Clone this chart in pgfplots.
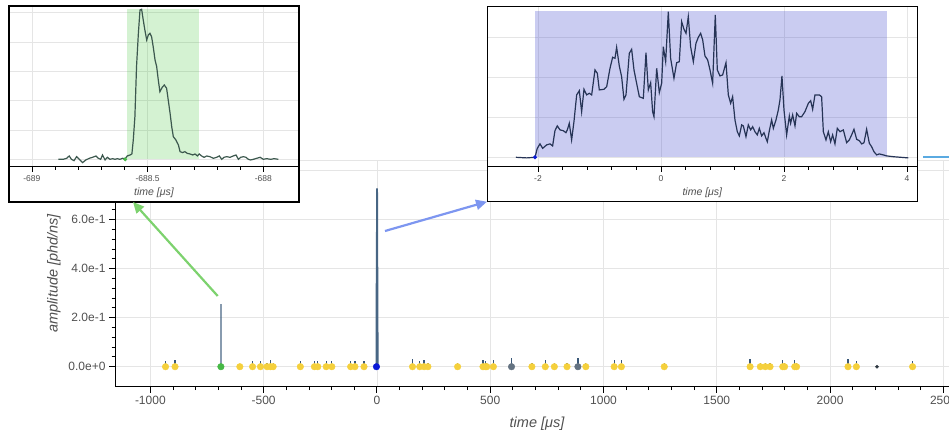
\documentclass[border=0pt]{standalone}
\usepackage{pgfplots}
\pgfplotsset{compat=1.18}
\usepackage{pgfplotstable}
\usepackage{fontspec}
\setmainfont{Liberation Sans}
\usetikzlibrary{arrows.meta}

\definecolor{gridcol}{RGB}{229,229,229}
\definecolor{textcol}{RGB}{80,80,80}
\definecolor{wavemain}{RGB}{72,102,132}
\definecolor{waveL}{RGB}{60,88,78}
\definecolor{waveR}{RGB}{38,52,86}
\definecolor{greenbase}{RGB}{40,190,30}
\definecolor{bluebase}{RGB}{65,72,205}
\definecolor{yellowc}{RGB}{245,208,60}
\definecolor{spikecol}{RGB}{58,88,120}
\definecolor{grayev}{RGB}{100,115,130}
\definecolor{darkdot}{RGB}{45,55,65}
\definecolor{greenmark}{RGB}{70,185,70}
\definecolor{bluemark}{RGB}{10,25,215}
\definecolor{greenarrow}{RGB}{125,210,110}
\definecolor{bluearrow}{RGB}{125,150,240}
\definecolor{lightbluearrow}{RGB}{90,170,225}

% S1 pulse (left inset)
\pgfplotstableread{
t a
-688.886 0
-688.865 0
-688.850 0.0017
-688.839 0.0057
-688.829 0
-688.818 -0.0023
-688.807 0.0045
-688.795 0
-688.781 -0.0057
-688.767 -0.0011
-688.752 0.0017
-688.738 0.0034
-688.723 0.0057
-688.713 0.0017
-688.703 0
-688.695 0.0074
-688.684 -0.0011
-688.674 0.0034
-688.663 0
-688.651 0.0011
-688.641 0
-688.631 0.0011
-688.620 0
-688.608 0.0017
-688.597 0.0011
-688.588 0.0057
-688.576 0.0074
-688.568 0.0091
-688.562 0.0330
-688.555 0.0727
-688.548 0.1580
-688.540 0.2148
-688.533 0.2545
-688.526 0.2557
-688.519 0.2375
-688.512 0.2205
-688.504 0.2034
-688.497 0.2119
-688.490 0.2148
-688.483 0.2091
-688.476 0.1920
-688.468 0.1693
-688.461 0.1580
-688.454 0.1352
-688.447 0.1153
-688.437 0.1227
-688.428 0.1267
-688.418 0.1210
-688.411 0.1011
-688.403 0.0784
-688.396 0.0557
-688.389 0.0386
-688.378 0.0330
-688.367 0.0244
-688.360 0.0131
-688.349 0.0114
-688.339 0.0131
-688.329 0.0102
-688.317 0.0091
-688.305 0.0074
-688.295 0.0091
-688.285 0.0057
-688.277 0.0091
-688.267 0.0057
-688.256 0.0034
-688.245 0.0057
-688.231 0.0045
-688.216 0.0017
-688.202 0.0034
-688.190 0.0057
-688.180 0
-688.170 0.0034
-688.159 0.0045
-688.144 0.0034
-688.130 0.0057
-688.118 0.0074
-688.108 0
-688.098 0.0034
-688.086 0.0045
-688.075 0.0034
-688.065 0
-688.055 -0.0011
-688.043 0
-688.029 0.0017
-688.014 0.0034
-688.000 0
-687.986 0.0011
-687.968 0
-687.954 0.0011
-687.935 0
}\sone

% S2 pulse (right inset)
\pgfplotstableread{
t a
-2.358 0
-2.184 -0.003
-2.049 0
-2.011 0.045
-1.967 0.067
-1.924 0.045
-1.859 0.062
-1.805 0.067
-1.762 0.057
-1.724 0.133
-1.686 0.157
-1.642 0.137
-1.588 0.133
-1.545 0.123
-1.523 0.137
-1.491 0.170
-1.453 0.087
-1.415 0.178
-1.371 0.312
-1.328 0.333
-1.290 0.228
-1.252 0.340
-1.209 0.312
-1.165 0.320
-1.127 0.312
-1.073 0.437
-1.035 0.420
-1.003 0.337
-0.927 0.340
-0.883 0.353
-0.829 0.445
-0.786 0.500
-0.748 0.495
-0.721 0.550
-0.678 0.457
-0.640 0.403
-0.602 0.290
-0.569 0.312
-0.515 0.520
-0.477 0.540
-0.439 0.437
-0.396 0.370
-0.352 0.303
-0.287 0.295
-0.244 0.523
-0.206 0.337
-0.168 0.373
-0.136 0.228
-0.114 0.203
-0.070 0.445
-0.027 0.323
0.011 0.370
0.038 0.553
0.076 0.478
0.119 0.728
0.157 0.495
0.211 0.395
0.255 0.473
0.298 0.478
0.336 0.678
0.374 0.640
0.407 0.620
0.444 0.703
0.482 0.553
0.526 0.478
0.569 0.570
0.607 0.600
0.645 0.620
0.678 0.587
0.715 0.507
0.759 0.487
0.797 0.437
0.840 0.370
0.883 0.712
0.916 0.437
0.959 0.407
1.003 0.412
1.057 0.473
1.095 0.312
1.133 0.270
1.165 0.303
1.203 0.187
1.241 0.128
1.274 0.107
1.312 0.162
1.339 0.157
1.382 0.103
1.420 0.162
1.458 0.137
1.491 0.153
1.528 0.128
1.566 0.112
1.599 0.145
1.637 0.107
1.675 0.123
1.707 0.095
1.729 0.078
1.762 0.133
1.799 0.187
1.827 0.145
1.870 0.187
1.908 0.237
1.935 0.287
1.967 0.407
2.000 0.237
2.043 0.112
2.087 0.207
2.108 0.170
2.141 0.212
2.179 0.157
2.206 0.220
2.249 0.203
2.287 0.203
2.341 0.228
2.396 0.270
2.434 0.283
2.466 0.240
2.504 0.312
2.542 0.312
2.575 0.312
2.612 0.303
2.640 0.128
2.683 0.087
2.721 0.128
2.759 0.078
2.791 0.112
2.829 0.067
2.867 0.145
2.911 0.128
2.965 0.137
3.019 0.073
3.062 0.087
3.100 0.112
3.138 0.140
3.182 0.090
3.225 0.083
3.263 0.067
3.301 0.073
3.344 0.140
3.388 0.070
3.425 0.053
3.463 0.028
3.507 0.012
3.550 0.017
3.615 0.012
3.669 0.007
3.778 0.003
4.022 -0.003
}\stwo

% small pulses (time, height)
\pgfplotstableread{
t h
-933 0.022
-891 0.026
-605 0.0
-549 0.022
-514 0.024
-485 0.014
-470 0.026
-458 0.014
-338 0.024
-276 0.024
-261 0.024
-224 0.022
-199 0.022
-116 0.022
-97 0.022
-57 0.024
157 0.03
189 0.022
208 0.026
225 0.014
356 0.014
468 0.026
479 0.022
485 0.014
514 0.026
684 0.014
743 0.026
783 0.014
839 0.016
922 0.014
1047 0.026
1079 0.026
1268 0.014
1647 0.032
1692 0.014
1714 0.014
1735 0.014
1791 0.026
1799 0.014
1844 0.026
1852 0.014
2079 0.03
2116 0.024
2364 0.024
}\events

\pgfplotstableread{
t h
594 0.034
887 0.034
}\grayevents

\begin{document}
\begin{tikzpicture}
\useasboundingbox (0,0) rectangle (949pt,432pt);
\clip (0,0) rectangle (949pt,432pt);

%================ main axis
\begin{axis}[
  at={(115pt,45.3pt)}, anchor=south west, scale only axis,
  width=844pt, height=226.7pt,
  xmin=-1156, xmax=2569, ymin=-0.0816, ymax=0.8437,
  axis x line*=bottom, axis y line*=left,
  axis line style={black, line width=1pt, -},
  tick align=outside,
  major tick length=6pt, minor tick length=3.5pt,
  every tick/.style={black, line width=0.9pt},
  xtick={-1000,-500,0,500,1000,1500,2000,2500},
  xticklabels={-1000,-500,0,500,1000,1500,2000,2500},
  minor x tick num=4,
  ytick={0,0.2,0.4,0.6,0.8},
  yticklabels={0.0e+0,2.0e-1,4.0e-1,6.0e-1,8.0e-1},
  minor y tick num=4,
  grid=major, major grid style={gridcol, line width=0.7pt},
  tick label style={font=\fontsize{12}{14}\selectfont, text=textcol},
  xlabel={time [μs]}, ylabel={amplitude [phd/ns]},
  xlabel style={yshift=-5pt},
  ylabel style={yshift=1pt},
  label style={font=\fontsize{14.5}{16}\selectfont\itshape, text=textcol},
]
\draw[gridcol, line width=0.8pt] (rel axis cs:0,1) -- (rel axis cs:1,1) -- (rel axis cs:1,0);
\addplot[ycomb, spikecol, line width=1.3pt, mark=none] table[x=t, y=h] {\events};
\addplot[ycomb, spikecol, line width=1.3pt, mark=none] table[x=t, y=h] {\grayevents};
\addplot[only marks, mark=*, mark size=3.3pt, mark options={fill=yellowc, draw=yellowc}] table[x=t, y expr=0] {\events};
\addplot[only marks, mark=*, mark size=3.3pt, mark options={fill=grayev, draw=grayev}] table[x=t, y expr=0] {\grayevents};
\addplot[only marks, mark=*, mark size=1.6pt, mark options={fill=darkdot, draw=darkdot}] coordinates {(2207,0)};
\addplot[wavemain, line width=1.2pt] table[x=t, y=a] {\sone};
\addplot[wavemain, line width=1.8pt] table[x=t, y=a] {\stwo};
\addplot[only marks, mark=*, mark size=3.3pt, mark options={fill=greenmark, draw=greenmark}] coordinates {(-688.597,0)};
\addplot[only marks, mark=*, mark size=3.3pt, mark options={fill=bluemark, draw=bluemark}] coordinates {(-2.049,0)};
\end{axis}

%================ left inset
\fill[white] (9pt,230pt) rectangle (299pt,426pt);
\begin{axis}[
  at={(9pt,265.3pt)}, anchor=south west, scale only axis,
  width=290pt, height=160.7pt,
  xmin=-689.099, xmax=-687.846, ymin=-0.0126, ymax=0.2613,
  axis x line*=bottom, axis y line*=left,
  axis line style={black, line width=0.9pt, -},
  y axis line style={draw=none},
  ytick style={draw=none}, yticklabels={},
  tick align=outside,
  major tick length=5pt, minor tick length=3pt,
  every tick/.style={black, line width=0.7pt},
  xtick={-689,-688.5,-688},
  xticklabels={-689,-688.5,-688},
  minor x tick num=4,
  ytick={0,0.05,0.1,0.15,0.2,0.25},
  grid=major, major grid style={gridcol, line width=0.7pt},
  tick label style={font=\fontsize{8.5}{10}\selectfont, text=textcol},
  xlabel={time [μs]},
  label style={font=\fontsize{10.5}{12}\selectfont\itshape, text=textcol},
]
\addplot[fill=greenbase, fill opacity=0.2, draw=none] coordinates {(-688.591,0.2557) (-688.278,0.2557)} \closedcycle;
\addplot[waveL, line width=1.2pt] table[x=t, y=a] {\sone};
\addplot[only marks, mark=*, mark size=1.8pt, mark options={fill=greenmark, draw=greenmark}] coordinates {(-688.597,0)};
\end{axis}
\draw[black, line width=1.4pt] (9pt,230pt) rectangle (299pt,426pt);

%================ right inset
\fill[white] (487.3pt,230.3pt) rectangle (917.3pt,425.7pt);
\begin{axis}[
  at={(487.3pt,265.3pt)}, anchor=south west, scale only axis,
  width=430pt, height=160.4pt,
  xmin=-2.824, xmax=4.168, ymin=-0.047, ymax=0.755,
  axis x line*=bottom, axis y line*=left,
  axis line style={black, line width=0.9pt, -},
  y axis line style={draw=none},
  ytick style={draw=none}, yticklabels={},
  tick align=outside,
  major tick length=5pt, minor tick length=3pt,
  every tick/.style={black, line width=0.7pt},
  xtick={-2,0,2,4},
  xticklabels={-2,0,2,4},
  minor x tick num=4,
  ytick={0,0.2,0.4,0.6},
  grid=major, major grid style={gridcol, line width=0.7pt},
  tick label style={font=\fontsize{8.5}{10}\selectfont, text=textcol},
  xlabel={time [μs]},
  label style={font=\fontsize{10.5}{12}\selectfont\itshape, text=textcol},
]
\addplot[fill=bluebase, fill opacity=0.28, draw=none] coordinates {(-2.049,0.732) (3.68,0.732)} \closedcycle;
\addplot[waveR, line width=1.2pt] table[x=t, y=a] {\stwo};
\addplot[only marks, mark=*, mark size=1.8pt, mark options={fill=bluemark, draw=bluemark}] coordinates {(-2.049,0)};
\end{axis}
\draw[black, line width=1.4pt] (487.3pt,230.3pt) rectangle (917.3pt,425.7pt);

%================ arrows
\draw[greenarrow, line width=2.2pt, -{Triangle[length=11pt,width=10pt]}] (217.7pt,136pt) -- (133pt,230pt);
\draw[bluearrow, line width=2.2pt, -{Triangle[length=11pt,width=10pt]}] (385pt,201pt) -- (487pt,230.3pt);
\draw[lightbluearrow, line width=2.4pt] (923pt,275pt) -- (970pt,275pt);
\end{tikzpicture}
\end{document}
